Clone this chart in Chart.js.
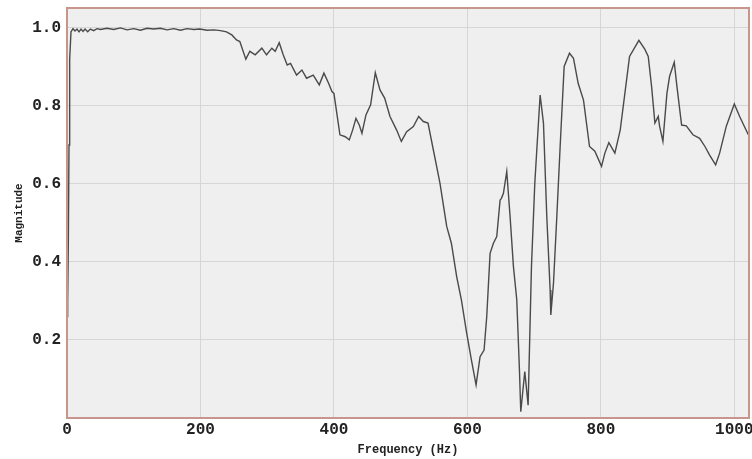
<!DOCTYPE html>
<html>
<head>
<meta charset="utf-8">
<script src="https://cdn.jsdelivr.net/npm/chart.js@4/dist/chart.umd.min.js"></script>
<style>
  html, body { margin: 0; padding: 0; background: #ffffff; }
  #wrap { width: 752px; height: 459px; position: relative; }
</style>
</head>
<body>
<div id="wrap"><canvas id="c" width="752" height="459"></canvas></div>
<script>
// Frequency (Hz) samples
const freqs = [0, 1, 2, 3, 4, 6, 9, 12, 15, 18, 21, 24, 27, 31, 35, 40, 45, 50, 60, 70, 80, 90, 100, 110, 120, 130, 140, 150, 160, 170, 180, 190, 199, 210, 220, 230, 239, 247, 254, 259, 268, 274, 282, 292, 299, 307, 312, 318, 324, 330, 335, 344, 352, 359, 369, 378, 385, 392, 397, 400, 405, 409, 417, 423, 428, 433, 438, 442, 448, 455, 462, 469, 476, 484, 494, 501, 509, 519, 527, 534, 541, 549, 556, 559, 569, 576, 584, 591, 599, 606, 613, 619, 625, 629, 634, 639, 644, 649, 651, 654, 659, 664, 669, 674, 678, 680, 686, 691, 696, 701, 704, 709, 714, 719, 724, 725, 729, 734, 739, 745, 753, 759, 766, 774, 783, 791, 801, 806, 812, 821, 829, 836, 843, 857, 866, 871, 876, 881, 886, 888, 893, 899, 903, 910, 914, 921, 928, 938, 948, 956, 963, 972, 978, 988, 1000, 1008, 1021];
// Magnitude values
const mags = [0.26, 0.30, 0.45, 0.70, 0.92, 0.99, 0.998, 0.992, 0.997, 0.99, 0.997, 0.991, 0.997, 0.99, 0.997, 0.993, 0.998, 0.996, 0.999, 0.996, 1.0, 0.995, 0.998, 0.994, 0.999, 0.997, 0.999, 0.995, 0.998, 0.994, 0.998, 0.996, 0.997, 0.994, 0.995, 0.993, 0.99, 0.982, 0.969, 0.965, 0.92, 0.94, 0.931, 0.948, 0.931, 0.948, 0.94, 0.962, 0.931, 0.905, 0.909, 0.879, 0.892, 0.871, 0.879, 0.854, 0.884, 0.858, 0.837, 0.832, 0.773, 0.726, 0.721, 0.713, 0.738, 0.768, 0.751, 0.730, 0.777, 0.803, 0.885, 0.841, 0.820, 0.773, 0.738, 0.709, 0.734, 0.747, 0.773, 0.760, 0.756, 0.687, 0.627, 0.601, 0.491, 0.448, 0.362, 0.303, 0.217, 0.149, 0.085, 0.157, 0.174, 0.260, 0.422, 0.448, 0.465, 0.559, 0.563, 0.576, 0.632, 0.516, 0.388, 0.303, 0.123, 0.016, 0.119, 0.033, 0.388, 0.601, 0.687, 0.828, 0.756, 0.516, 0.328, 0.264, 0.345, 0.516, 0.696, 0.901, 0.935, 0.922, 0.858, 0.815, 0.696, 0.684, 0.645, 0.679, 0.706, 0.679, 0.738, 0.832, 0.927, 0.968, 0.945, 0.927, 0.850, 0.756, 0.773, 0.748, 0.709, 0.832, 0.876, 0.912, 0.850, 0.751, 0.749, 0.726, 0.717, 0.696, 0.674, 0.649, 0.679, 0.748, 0.805, 0.773, 0.726];
const xTickValues = [0, 200, 400, 600, 800, 1000];
const yTickValues = [0.2, 0.4, 0.6, 0.8, 1.0];

const points = freqs.map((f, i) => ({ x: f, y: mags[i] }));

const plotBg = {
  id: 'plotBg',
  beforeDraw(chart) {
    const { ctx, chartArea: a } = chart;
    ctx.save();
    ctx.fillStyle = '#efefef';
    ctx.fillRect(a.left, a.top, a.right - a.left, a.bottom - a.top);
    ctx.restore();
  },
  afterDraw(chart) {
    const { ctx, chartArea: a } = chart;
    ctx.save();
    ctx.strokeStyle = '#c8958c';
    ctx.lineWidth = 2;
    ctx.strokeRect(a.left, a.top, a.right - a.left, a.bottom - a.top);
    ctx.restore();
  }
};

const monoBold = (size) => ({ family: '"Liberation Mono", "DejaVu Sans Mono", monospace', size, weight: 'bold' });

new Chart(document.getElementById('c'), {
  type: 'line',
  data: {
    datasets: [{
      data: points,
      borderColor: '#4a4a4a',
      borderWidth: 1.4,
      pointRadius: 0,
      tension: 0,
      fill: false
    }]
  },
  options: {
    responsive: false,
    animation: false,
    layout: { padding: { left: 0, right: 3, top: 8, bottom: 0 } },
    plugins: { legend: { display: false }, tooltip: { enabled: false } },
    scales: {
      x: {
        type: 'linear',
        min: 0,
        max: 1022,
        afterBuildTicks: (s) => { s.ticks = xTickValues.map(v => ({ value: v })); },
        afterFit: (s) => { s.height = 41; s.paddingLeft = 0; s.paddingRight = 0; },
        ticks: {
          includeBounds: false,
          color: '#222',
          font: monoBold(16),
          padding: 2,
          callback: (v) => String(v)
        },
        grid: { color: '#d6d6d6', drawTicks: false, lineWidth: 1 },
        border: { display: false },
        title: {
          display: true,
          text: 'Frequency (Hz)',
          color: '#222',
          font: monoBold(12),
          padding: { top: 0, bottom: 2 }
        }
      },
      y: {
        type: 'linear',
        min: 0,
        max: 1.051,
        afterBuildTicks: (s) => { s.ticks = yTickValues.map(v => ({ value: v })); },
        afterFit: (s) => { s.width = 67; s.paddingTop = 0; s.paddingBottom = 0; },
        ticks: {
          includeBounds: false,
          color: '#222',
          font: monoBold(16),
          padding: 6,
          callback: (v) => Number(v).toFixed(1)
        },
        grid: { color: '#d6d6d6', drawTicks: false, lineWidth: 1 },
        border: { display: false },
        title: {
          display: true,
          text: 'Magnitude',
          color: '#222',
          font: monoBold(11),
          padding: { top: 13, bottom: 0 }
        }
      }
    }
  },
  plugins: [plotBg]
});
</script>
</body>
</html>
